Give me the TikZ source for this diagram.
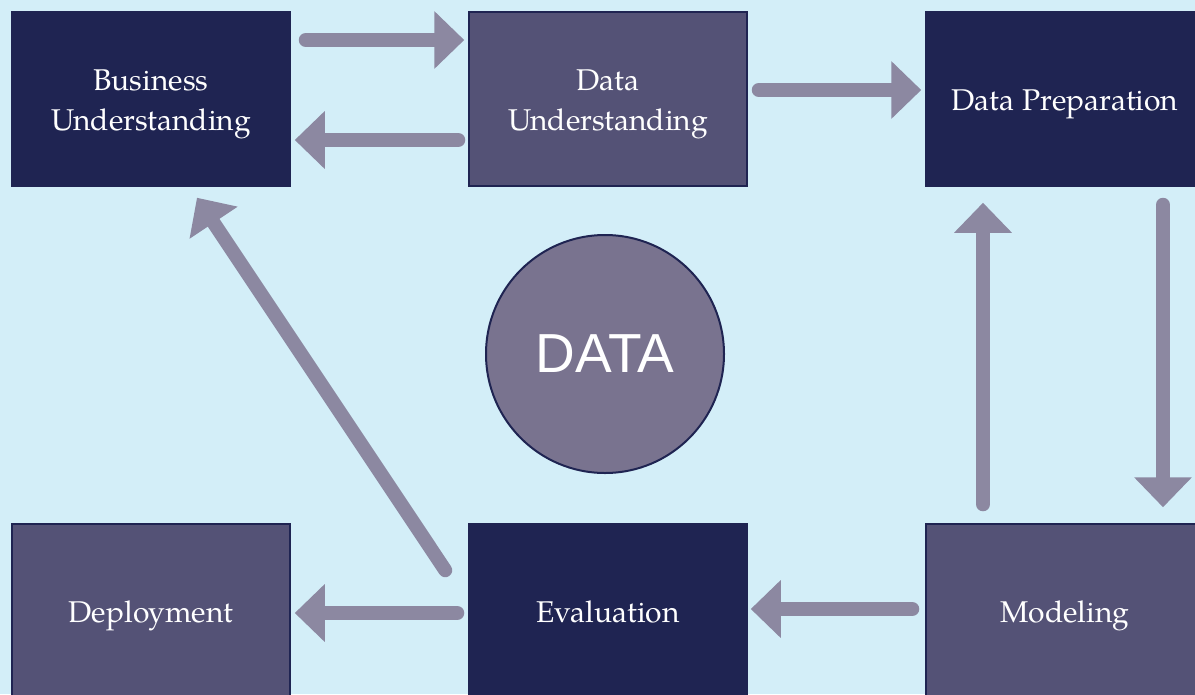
\documentclass[tikz,border=0pt]{standalone}
\usepackage{fontspec}
\setmainfont{Liberation Serif}
\newfontfamily\pag{texgyrepagella-regular.otf}
\newfontfamily\datafont{Liberation Sans}
\usetikzlibrary{arrows.meta,calc}
\newcommand\ls{\rule[-9pt]{0pt}{40pt}}
\definecolor{bgc}{HTML}{D3EEF8}
\definecolor{navy}{HTML}{1F2452}
\definecolor{slate}{HTML}{545276}
\definecolor{arrc}{HTML}{8C88A1}
\definecolor{circc}{HTML}{79738F}
\tikzset{
  phase/.style={rectangle, minimum width=278pt, minimum height=174pt, inner sep=0pt,
    text=white, align=center, font=\pag\fontsize{30}{40}\selectfont, line width=1.5pt, draw=navy},
  darkbox/.style={phase, fill=navy},
  lightbox/.style={phase, fill=slate},
  flow/.style={draw=arrc, line width=14pt, line cap=round,
    -{Triangle[length=30pt,width=56pt]}, arrc}
}
\begin{document}
\begin{tikzpicture}[x=1pt,y=-1pt]
\fill[bgc] (0,0) rectangle (1195,694);
\useasboundingbox (0,0) rectangle (1195,694);
\clip (0,0) rectangle (1195,694);
\node[darkbox] (bu) at (151,99) {\ls Business\\\ls Understanding};
\node[lightbox] (du) at (608,99) {\ls Data\\\ls Understanding};
\node[darkbox] (dp) at (1065,99) {\ls Data Preparation};
\node[lightbox] (dep) at (151,611) {\ls Deployment};
\node[darkbox] (ev) at (608,611) {\ls Evaluation};
\node[lightbox] (mo) at (1065,611) {\ls Modeling};
\node[circle, fill=circc, draw=navy, line width=2pt, minimum size=238pt, inner sep=0pt,
  text=white, font=\datafont\fontsize{55}{55}\selectfont] (data) at (605,354) {DATA};
\draw[flow] ($(bu.east)+(15,-59)$) -- ($(du.west)+(-4,-59)$);
\draw[flow] ($(du.west)+(-10,41)$) -- ($(bu.east)+(4,41)$);
\draw[flow] ($(du.east)+(11,-9)$) -- ($(dp.west)+(-4,-9)$);
\draw[flow] ($(dp.south)+(98,18)$) -- ($(mo.north)+(98,-16)$);
\draw[flow] ($(mo.north)+(-82,-19)$) -- ($(dp.south)+(-82,16)$);
\draw[flow] ($(mo.west)+(-13,-2)$) -- ($(ev.east)+(3,-2)$);
\draw[flow] ($(ev.west)+(-11,2)$) -- ($(dep.east)+(4,2)$);
\draw[flow] ($(ev.north west)+(-23,47)$) -- ($(bu.south)+(46,11)$);
\end{tikzpicture}
\end{document}
